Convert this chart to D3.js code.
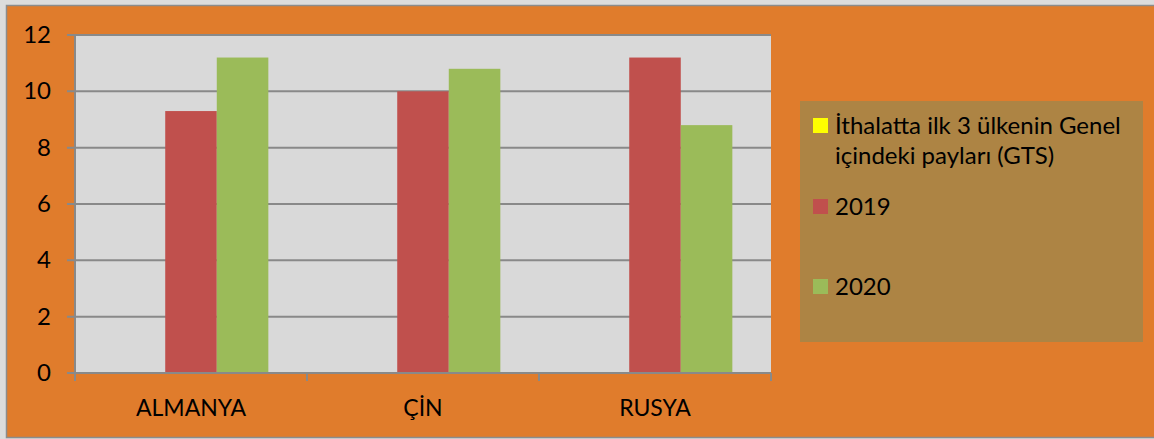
<!DOCTYPE html>
<html>
<head>
<meta charset="utf-8">
<script src="https://cdn.jsdelivr.net/npm/d3@7"></script>
<style>
  body { margin: 0; background: #dcdcdc; }
  text { font-family: Lato, "Open Sans", sans-serif; fill: #000; }
</style>
</head>
<body>
<div id="chart"></div>
<script>
// chart data
var categories = ["ALMANYA", "ÇİN", "RUSYA"];
var seriesNames = ["İthalatta ilk 3 ülkenin Genel içindeki payları (GTS)", "2019", "2020"];
var gtsValues = [0, 0, 0];
var values2019 = [9.3, 10.0, 11.2];
var values2020 = [11.2, 10.8, 8.8];
var yTicks = [0, 2, 4, 6, 8, 10, 12];

var colors = ["#ffff00", "#c0504d", "#9bbb59"];
var seriesValues = [gtsValues, values2019, values2020];

var W = 1154, H = 439;
var margin = {top: 35, right: 383, bottom: 66, left: 75},
    width = W - margin.left - margin.right,
    height = H - margin.top - margin.bottom;

var svg = d3.select("#chart")
  .append("svg")
  .attr("width", W)
  .attr("height", H);

// frame + orange background
svg.append("rect")
  .attr("x", 6.5).attr("y", 5.5)
  .attr("width", W).attr("height", 432)
  .style("fill", "#e07c2c")
  .style("stroke", "#8c8c8c")
  .style("stroke-width", 1.5);

var g = svg.append("g")
  .attr("transform", "translate(" + margin.left + "," + margin.top + ")");

g.append("rect")
  .attr("width", width).attr("height", height)
  .style("fill", "#d9d9d9");

var x0 = d3.scaleBand()
  .domain(categories)
  .range([0, width]);

// 3 bars, gap width 150%
var barW = x0.bandwidth() / 4.5;
var x1 = d3.scaleBand()
  .domain(d3.range(seriesNames.length))
  .range([barW * 0.75, x0.bandwidth() - barW * 0.75]);

var y = d3.scaleLinear()
  .domain([0, 12])
  .range([height, 0]);

// gridlines
g.append("g")
  .selectAll("line")
  .data(yTicks)
  .enter()
  .append("line")
    .attr("x1", -8).attr("x2", width)
    .attr("y1", function (d) { return y(d); })
    .attr("y2", function (d) { return y(d); })
    .style("stroke", "#898989")
    .style("stroke-width", 2);

// y axis line
g.append("line")
  .attr("x1", 0).attr("x2", 0)
  .attr("y1", 0).attr("y2", height)
  .style("stroke", "#898989").style("stroke-width", 2);

g.append("g")
  .selectAll("text")
  .data(yTicks)
  .enter()
  .append("text")
    .attr("x", -24)
    .attr("y", function (d) { return y(d) + 8; })
    .attr("text-anchor", "end")
    .style("font-size", "24px")
    .text(function (d) { return d; });

// bars
var groups = g.selectAll(".cat")
  .data(categories)
  .enter()
  .append("g")
  .attr("transform", function (d) { return "translate(" + x0(d) + ",0)"; });

groups.selectAll("rect")
  .data(function (d, i) {
    return seriesValues.map(function (s, j) { return {s: j, v: s[i]}; });
  })
  .enter()
  .append("rect")
    .attr("x", function (d) { return x1(d.s); })
    .attr("width", x1.bandwidth())
    .attr("y", function (d) { return y(d.v); })
    .attr("height", function (d) { return height - y(d.v); })
    .style("fill", function (d) { return colors[d.s]; });

// x axis
g.append("line")
  .attr("x1", 0).attr("x2", width)
  .attr("y1", height).attr("y2", height)
  .style("stroke", "#898989").style("stroke-width", 2);

var xTickPos = categories.map(function (c) { return x0(c); }).concat([width]);
g.append("g")
  .selectAll("line")
  .data(xTickPos)
  .enter()
  .append("line")
    .attr("x1", function (d) { return d; }).attr("x2", function (d) { return d; })
    .attr("y1", height).attr("y2", height + 8)
    .style("stroke", "#898989").style("stroke-width", 2);

g.append("g")
  .selectAll("text")
  .data(categories)
  .enter()
  .append("text")
    .attr("x", function (d) { return x0(d) + x0.bandwidth() / 2; })
    .attr("y", height + 43)
    .attr("text-anchor", "middle")
    .style("font-size", "23px")
    .text(function (d) { return d; });

// legend
var legend = svg.append("g");
legend.append("rect")
  .attr("x", 800).attr("y", 101)
  .attr("width", 343).attr("height", 241)
  .style("fill", "#ad8444");

var legendItems = [
  {lines: ["İthalatta ilk 3 ülkenin Genel", "içindeki payları (GTS)"], y: 118},
  {lines: ["2019"], y: 199},
  {lines: ["2020"], y: 279}
];

legendItems.forEach(function (item, i) {
  legend.append("rect")
    .attr("x", 813).attr("y", item.y)
    .attr("width", 15).attr("height", 15)
    .style("fill", colors[i]);
  item.lines.forEach(function (l, k) {
    legend.append("text")
      .attr("x", 835)
      .attr("y", item.y + 16 + k * 30)
      .style("font-size", "24px")
      .text(l);
  });
});
</script>
</body>
</html>
